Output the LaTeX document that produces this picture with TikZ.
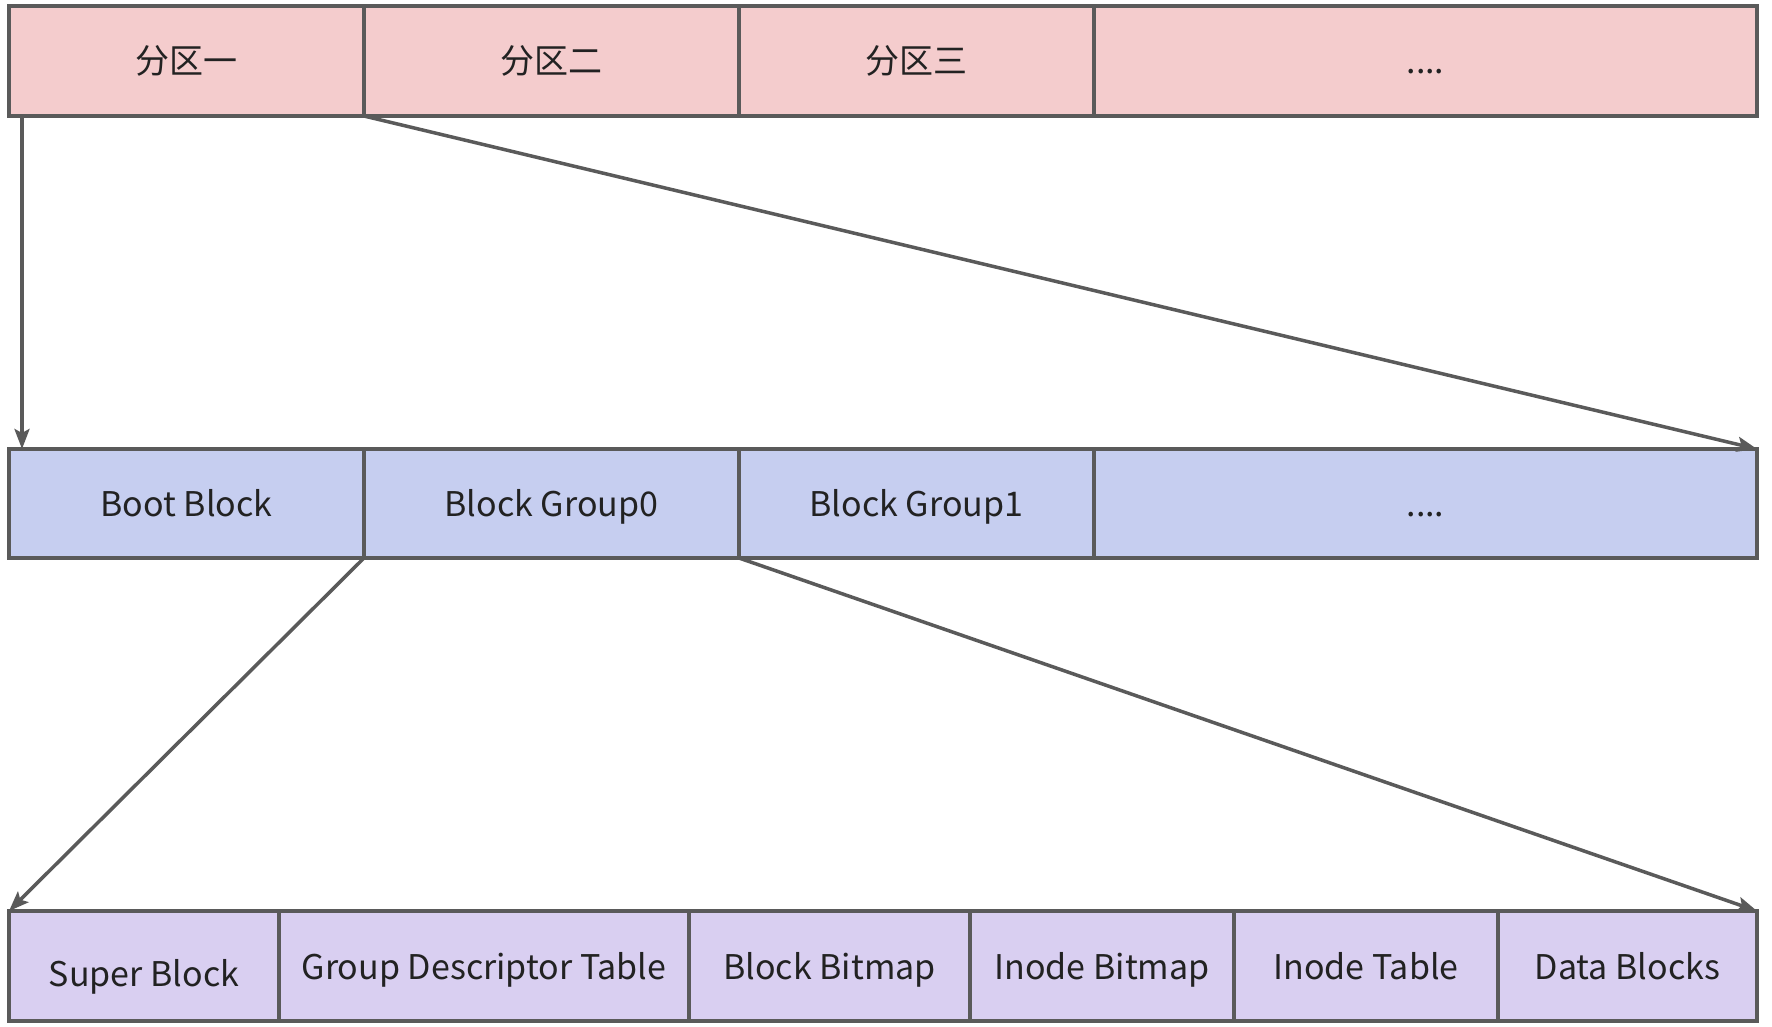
\documentclass[tikz,border=0pt]{standalone}
\usepackage{fontspec}
\setmainfont{Noto Sans CJK SC}
\usetikzlibrary{arrows.meta}
\definecolor{edgec}{HTML}{5A5A5A}
\definecolor{pinkc}{HTML}{F4CCCD}
\definecolor{bluec}{HTML}{C6CEF0}
\definecolor{lavc}{HTML}{D9CFF1}
\definecolor{txtc}{HTML}{222222}
\tikzset{
  cell/.style={draw=edgec, line width=4pt, rectangle, inner sep=0pt, outer sep=0pt,
    text=txtc, text height=30pt, text depth=4pt, font=\fontsize{34}{40}\selectfont},
  toprow/.style={cell, fill=pinkc, minimum height=110pt},
  midrow/.style={cell, fill=bluec, minimum height=109pt},
  botrow/.style={cell, fill=lavc, minimum height=110pt},
  link/.style={draw=edgec, line width=3.5pt, -{Stealth[length=20pt,width=15pt,inset=4pt]}}
}
\begin{document}
\begin{tikzpicture}[x=1pt,y=-1pt]
\useasboundingbox[fill=white] (0,0) rectangle (1772,1027);
% top row
\node[toprow, minimum width=355pt] (p1) at (186.5,61) {分区一};
\node[toprow, minimum width=375pt] (p2) at (551.5,61) {分区二};
\node[toprow, minimum width=355pt] (p3) at (916.5,61) {分区三};
\node[toprow, minimum width=663pt] (p4) at (1425.5,61) {....};
% middle row
\node[midrow, minimum width=355pt] (b0) at (186.5,503.5) {Boot Block};
\node[midrow, minimum width=375pt] (b1) at (551.5,503.5) {Block Group0};
\node[midrow, minimum width=355pt] (b2) at (916.5,503.5) {Block Group1};
\node[midrow, minimum width=663pt] (b3) at (1425.5,503.5) {....};
% bottom row
\node[botrow, minimum width=270pt] (s1) at (144,966) {\raisebox{-7pt}{Super Block}};
\node[botrow, minimum width=410pt] (s2) at (484,966) {Group Descriptor Table};
\node[botrow, minimum width=281pt] (s3) at (829.5,966) {Block Bitmap};
\node[botrow, minimum width=264pt] (s4) at (1102,966) {Inode Bitmap};
\node[botrow, minimum width=264pt] (s5) at (1366,966) {Inode Table};
\node[botrow, minimum width=259pt] (s6) at (1627.5,966) {Data Blocks};
% connectors
\draw[link] ([xshift=13pt]p1.south west) -- ([xshift=13pt]b0.north west);
\draw[link] (p1.south east) -- (b3.north east);
\draw[link] (b1.south west) -- (s1.north west);
\draw[link] (b2.south west) -- (s6.north east);
\end{tikzpicture}
\end{document}
